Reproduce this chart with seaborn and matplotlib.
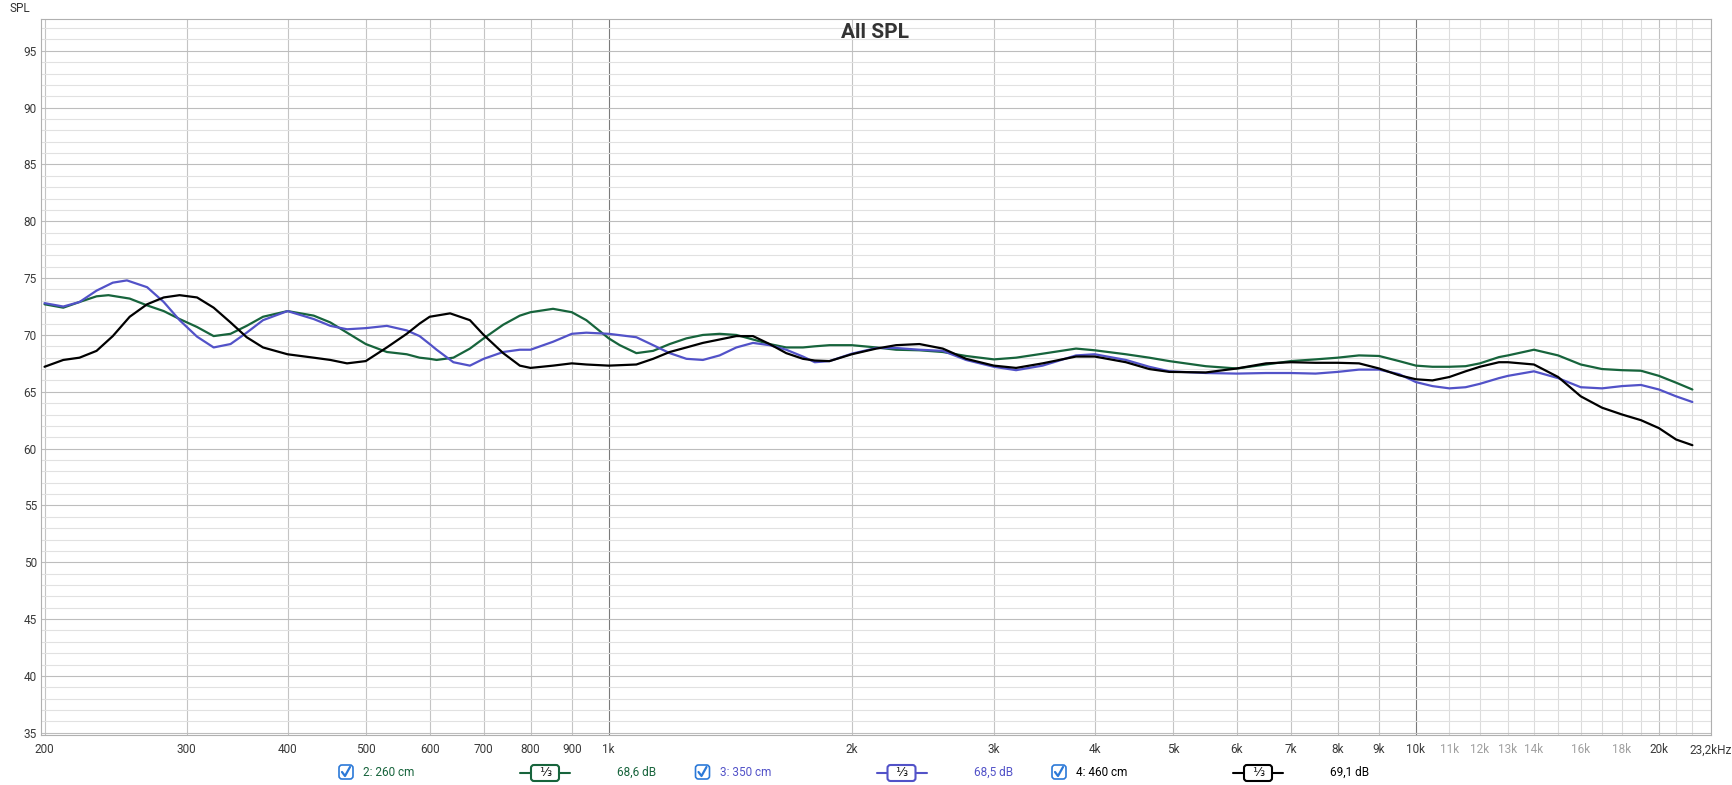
import numpy as np
import pandas as pd
import matplotlib
matplotlib.use("Agg")
import matplotlib.pyplot as plt
from matplotlib.patches import FancyBboxPatch
from matplotlib.ticker import NullLocator, NullFormatter
import seaborn as sns

# 2: 260 cm (green)
freq_260 = [200, 211, 221, 232, 240, 255, 268, 281, 294, 309, 324, 340, 356, 373, 400, 431, 452, 474,
            500, 531, 562, 583, 600, 612, 642, 673, 700, 740, 776, 800, 853, 900, 938, 1000, 1032,
            1082, 1135, 1190, 1248, 1308, 1372, 1439, 1509, 1582, 1659, 1740, 1800, 1877, 2000, 2145,
            2270, 2426, 2593, 2771, 3000, 3196, 3447, 3792, 4000, 4372, 4673, 4947, 5490, 6000, 6520,
            7000, 7510, 8000, 8500, 9000, 9530, 10000, 10480, 11000, 11520, 12000, 12670, 13000,
            14000, 15000, 16000, 17000, 18000, 19000, 20000, 21000, 22000]
spl_260 = [72.7, 72.4, 72.9, 73.4, 73.5, 73.2, 72.6, 72.1, 71.4, 70.7, 69.9, 70.1, 70.8, 71.6, 72.1,
           71.7, 71.1, 70.2, 69.2, 68.5, 68.3, 68.0, 67.9, 67.8, 68.0, 68.8, 69.7, 70.9, 71.7, 72.0,
           72.3, 72.0, 71.3, 69.7, 69.1, 68.4, 68.6, 69.2, 69.7, 70.0, 70.1, 70.0, 69.6, 69.2, 68.9,
           68.9, 69.0, 69.1, 69.1, 68.9, 68.7, 68.65, 68.5, 68.15, 67.85, 68.0, 68.35, 68.8, 68.65,
           68.3, 68.0, 67.7, 67.25, 67.05, 67.4, 67.7, 67.85, 68.0, 68.2, 68.15, 67.7, 67.3, 67.2,
           67.2, 67.25, 67.5, 68.05, 68.2, 68.7, 68.2, 67.4, 67.0, 66.9, 66.85, 66.4, 65.8, 65.2]

# 3: 350 cm (blue)
freq_350 = [200, 211, 221, 232, 243, 253, 268, 281, 294, 309, 324, 340, 356, 373, 400, 431, 452, 474,
            500, 531, 562, 583, 600, 612, 642, 673, 700, 740, 776, 800, 853, 900, 938, 1000, 1082,
            1135, 1190, 1248, 1308, 1372, 1439, 1509, 1582, 1659, 1740, 1800, 1877, 2000, 2145, 2270,
            2426, 2593, 2771, 3000, 3196, 3447, 3792, 4000, 4372, 4673, 4947, 5490, 6000, 6520, 7000,
            7510, 8000, 8500, 9000, 9530, 10000, 10480, 11000, 11520, 12000, 12670, 13000, 14000,
            15000, 16000, 17000, 18000, 19000, 20000, 21000, 22000]
spl_350 = [72.8, 72.5, 72.9, 73.9, 74.6, 74.8, 74.2, 72.9, 71.3, 69.85, 68.9, 69.2, 70.2, 71.3, 72.1,
           71.4, 70.8, 70.5, 70.6, 70.8, 70.4, 69.9, 69.2, 68.7, 67.6, 67.3, 67.9, 68.5, 68.7, 68.7,
           69.4, 70.1, 70.2, 70.1, 69.8, 69.1, 68.4, 67.9, 67.8, 68.2, 68.9, 69.3, 69.1, 68.7, 68.1,
           67.6, 67.7, 68.35, 68.85, 68.85, 68.7, 68.6, 67.8, 67.2, 66.9, 67.3, 68.2, 68.3, 67.8,
           67.2, 66.8, 66.65, 66.6, 66.65, 66.65, 66.6, 66.75, 66.95, 66.95, 66.55, 65.85, 65.5,
           65.3, 65.4, 65.7, 66.2, 66.4, 66.8, 66.2, 65.4, 65.3, 65.5, 65.6, 65.2, 64.6, 64.1]

# 4: 460 cm (black)
freq_460 = [200, 211, 221, 232, 243, 255, 268, 281, 294, 309, 324, 340, 356, 373, 400, 431, 452, 474,
            500, 531, 562, 583, 600, 636, 673, 700, 740, 776, 800, 853, 900, 938, 1000, 1082, 1135,
            1190, 1248, 1308, 1372, 1439, 1509, 1582, 1659, 1740, 1800, 1877, 2000, 2145, 2270, 2426,
            2593, 2771, 3000, 3196, 3447, 3792, 4000, 4372, 4673, 4947, 5490, 6000, 6520, 7000, 7510,
            8000, 8500, 9000, 9530, 10000, 10480, 11000, 11520, 12000, 12670, 13000, 14000, 15000,
            16000, 17000, 18000, 19000, 20000, 21000, 22000]
spl_460 = [67.2, 67.8, 68.0, 68.6, 69.9, 71.6, 72.7, 73.3, 73.5, 73.3, 72.4, 71.1, 69.8, 68.9, 68.3,
           68.0, 67.8, 67.5, 67.7, 68.9, 70.1, 71.0, 71.6, 71.9, 71.3, 70.0, 68.4, 67.3, 67.1, 67.3,
           67.5, 67.4, 67.3, 67.4, 67.9, 68.5, 68.9, 69.3, 69.6, 69.9, 69.9, 69.2, 68.4, 67.9, 67.75,
           67.7, 68.3, 68.8, 69.1, 69.2, 68.8, 67.9, 67.3, 67.1, 67.5, 68.1, 68.1, 67.6, 67.0, 66.75,
           66.7, 67.05, 67.5, 67.6, 67.55, 67.55, 67.5, 67.05, 66.45, 66.1, 66.0, 66.3, 66.8, 67.2,
           67.6, 67.6, 67.4, 66.3, 64.6, 63.6, 63.0, 62.5, 61.8, 60.8, 60.3]

series_names = ["2: 260 cm", "3: 350 cm", "4: 460 cm"]
series_avg = ["68,6 dB", "68,5 dB", "69,1 dB"]
series_colors = ["#17643c", "#5252c8", "#000000"]

grid_freqs = ([f for f in range(200, 1000, 100)] + [f for f in range(1000, 10000, 1000)]
              + [f for f in range(10000, 23000, 1000)] + [23200])
unlabeled = [15000, 17000, 19000, 21000, 22000]

df = pd.concat([
    pd.DataFrame({"freq": freq_260, "spl": spl_260, "series": series_names[0]}),
    pd.DataFrame({"freq": freq_350, "spl": spl_350, "series": series_names[1]}),
    pd.DataFrame({"freq": freq_460, "spl": spl_460, "series": series_names[2]}),
], ignore_index=True)

sns.set_style("white")
plt.rcParams["font.family"] = ["Roboto", "DejaVu Sans"]

W, H = 1732, 785
fig = plt.figure(figsize=(W / 100, H / 100), dpi=100)
ax = fig.add_axes([41 / W, 1 - 735 / H, (1711 - 41) / W, (735 - 19) / H])

sns.lineplot(data=df, x="freq", y="spl", hue="series",
             palette=dict(zip(series_names, series_colors)),
             estimator=None, sort=False, linewidth=1.6, legend=False, ax=ax)

ax.set_xscale("log")
ax.set_xlim(198, 23200)
ax.set_ylim(34.8, 97.8)

# x ticks / grid
labels = []
for f in grid_freqs:
    if f == 23200:
        labels.append("23,2kHz")
    elif f in unlabeled:
        labels.append("")
    elif f < 1000:
        labels.append(str(f))
    else:
        labels.append(f"{f // 1000}k")
ax.set_xticks(grid_freqs)
ax.set_xticklabels(labels)
ax.xaxis.set_minor_locator(NullLocator())
ax.xaxis.set_minor_formatter(NullFormatter())

ax.set_yticks(range(35, 100, 5))
ax.set_yticks(range(35, 98), minor=True)

ax.tick_params(axis="both", which="both", length=0)
ax.tick_params(axis="x", pad=6, labelsize=8.5, labelcolor="#3a3a3a")
ax.tick_params(axis="y", pad=3, labelsize=8.5, labelcolor="#3a3a3a")
ax.set_xlabel("")
ax.set_ylabel("")

ax.set_axisbelow(True)
ax.grid(True, which="major", axis="both", lw=0.8)
ax.grid(True, which="minor", axis="y", color="#e1e1e1", lw=0.8)

for f, gl, tl in zip(grid_freqs, ax.get_xgridlines(), ax.get_xticklabels()):
    if f in (1000, 10000):
        gl.set_color("#7a7a7a")
    elif f == 20000:
        gl.set_color("#c0c0c0")
    elif f > 10000:
        gl.set_color("#dcdcdc")
    else:
        gl.set_color("#c4c4c4")
    if 10000 < f < 20000:
        tl.set_color("#a0a0a0")
for gl in ax.get_ygridlines():
    gl.set_color("#bdbdbd")

for sp in ax.spines.values():
    sp.set_color("#b0b0b0")
    sp.set_linewidth(0.8)

# title and axis name
fig.text(875 / W, 1 - 33 / H, "All SPL", ha="center", va="center",
         fontsize=15, fontweight="bold", color="#333333")
fig.text(9 / W, 1 - 8 / H, "SPL", ha="left", va="center", fontsize=8.5, color="#333333")

# legend strip drawn in pixel coordinates
lg = fig.add_axes([0, 0, 1, 1], zorder=5)
lg.set_xlim(0, W)
lg.set_ylim(H, 0)
lg.axis("off")
lg.patch.set_alpha(0)

yc = 772
for i, (name, avg, col) in enumerate(zip(series_names, series_avg, series_colors)):
    x0 = 346 + 356.5 * i
    lg.add_patch(FancyBboxPatch((x0 - 7, yc - 7), 14, 14,
                                boxstyle="round,pad=0,rounding_size=3",
                                fc="white", ec="#2b79d8", lw=1.2))
    lg.plot([x0 - 4, x0 - 1, x0 + 4], [yc, yc + 4, yc - 5], color="#2b79d8", lw=1.6,
            solid_capstyle="round")
    lg.text(x0 + 17, yc, name, color=col, fontsize=8.5, va="center", ha="left")
    lg.plot([x0 + 174, x0 + 224], [yc + 1, yc + 1], color=col, lw=1.5)
    lg.add_patch(FancyBboxPatch((x0 + 185, yc - 7), 28, 16,
                                boxstyle="round,pad=0,rounding_size=3",
                                fc="white", ec=col, lw=1.5, zorder=3))
    lg.text(x0 + 199, yc + 1, "\u2153", color="#111111", fontsize=9, va="center", ha="center",
            family="DejaVu Sans", zorder=4)
    lg.text(x0 + 271, yc, avg, color=col, fontsize=8.5, va="center", ha="left")

fig.savefig("out.png", dpi=100)
